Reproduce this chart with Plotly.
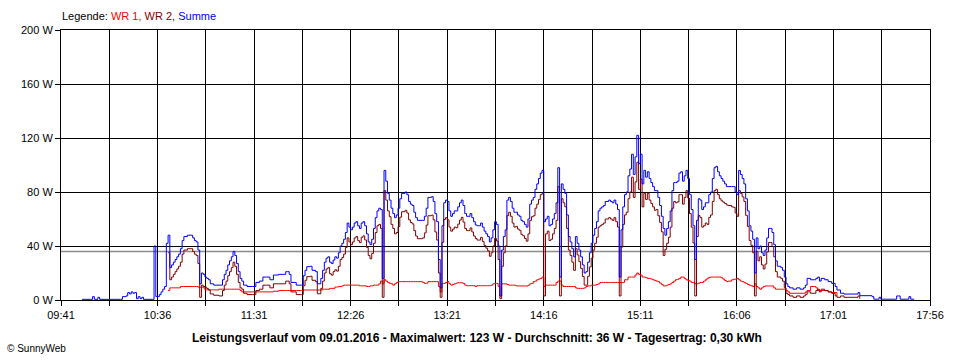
import plotly.graph_objects as go

DATE = "2016-01-09"

# --- data (time of day, watts) ---
times = [
    "09:53", "09:57", "09:58", "09:59", "10:00", "10:01", "10:02", "10:03", "10:15", "10:16",
    "10:18", "10:19", "10:20", "10:21", "10:22", "10:23", "10:24", "10:25", "10:26", "10:27",
    "10:28", "10:33", "10:34", "10:35", "10:37", "10:38", "10:39", "10:40", "10:41", "10:42",
    "10:43", "10:44", "10:45", "10:46", "10:47", "10:48", "10:49", "10:50", "10:51", "10:53",
    "10:55", "10:56", "10:57", "10:58", "10:59", "11:00", "11:01", "11:02", "11:03", "11:04",
    "11:05", "11:06", "11:08", "11:11", "11:13", "11:14", "11:15", "11:16", "11:17", "11:18",
    "11:19", "11:20", "11:21", "11:22", "11:23", "11:24", "11:25", "11:27", "11:30", "11:32",
    "11:34", "11:36", "11:38", "11:40", "11:42", "11:45", "11:48", "11:49", "11:50", "11:51",
    "11:52", "11:55", "11:58", "11:59", "12:00", "12:01", "12:03", "12:04", "12:06", "12:07",
    "12:08", "12:09", "12:10", "12:11", "12:12", "12:13", "12:14", "12:15", "12:16", "12:17",
    "12:18", "12:19", "12:20", "12:21", "12:22", "12:23", "12:24", "12:25", "12:26", "12:27",
    "12:28", "12:29", "12:30", "12:31", "12:32", "12:33", "12:34", "12:35", "12:36", "12:37",
    "12:38", "12:39", "12:40", "12:41", "12:42", "12:43", "12:44", "12:45", "12:46", "12:47",
    "12:48", "12:49", "12:50", "12:51", "12:52", "12:53", "12:54", "12:55", "12:57", "12:58",
    "12:59", "13:00", "13:01", "13:02", "13:03", "13:04", "13:07", "13:08", "13:09", "13:10",
    "13:12", "13:13", "13:14", "13:15", "13:16", "13:17", "13:18", "13:19", "13:20", "13:21",
    "13:22", "13:23", "13:24", "13:25", "13:26", "13:27", "13:28", "13:29", "13:30", "13:31",
    "13:32", "13:33", "13:34", "13:35", "13:36", "13:37", "13:38", "13:39", "13:40", "13:41",
    "13:42", "13:43", "13:44", "13:45", "13:46", "13:47", "13:48", "13:49", "13:50", "13:51",
    "13:52", "13:53", "13:54", "13:55", "13:56", "13:57", "13:58", "13:59", "14:00", "14:01",
    "14:02", "14:03", "14:04", "14:05", "14:06", "14:07", "14:08", "14:09", "14:10", "14:11",
    "14:12", "14:13", "14:14", "14:15", "14:16", "14:17", "14:18", "14:19", "14:20", "14:21",
    "14:22", "14:23", "14:24", "14:25", "14:26", "14:27", "14:28", "14:29", "14:30", "14:31",
    "14:32", "14:33", "14:34", "14:35", "14:36", "14:37", "14:38", "14:39", "14:40", "14:41",
    "14:42", "14:43", "14:44", "14:45", "14:46", "14:47", "14:48", "14:49", "14:50", "14:51",
    "14:52", "14:53", "14:54", "14:55", "14:56", "14:57", "14:58", "14:59", "15:00", "15:01",
    "15:02", "15:03", "15:04", "15:05", "15:06", "15:07", "15:08", "15:09", "15:10", "15:11",
    "15:12", "15:13", "15:14", "15:15", "15:16", "15:17", "15:18", "15:19", "15:20", "15:21",
    "15:22", "15:23", "15:24", "15:25", "15:26", "15:27", "15:28", "15:29", "15:30", "15:31",
    "15:32", "15:33", "15:34", "15:35", "15:36", "15:37", "15:38", "15:39", "15:40", "15:41",
    "15:42", "15:43", "15:44", "15:45", "15:46", "15:47", "15:48", "15:49", "15:50", "15:51",
    "15:52", "15:53", "15:54", "15:55", "15:56", "15:57", "15:58", "15:59", "16:00", "16:01",
    "16:03", "16:04", "16:05", "16:06", "16:07", "16:08", "16:09", "16:10", "16:11", "16:12",
    "16:13", "16:14", "16:15", "16:16", "16:17", "16:18", "16:19", "16:20", "16:21", "16:22",
    "16:23", "16:24", "16:25", "16:26", "16:27", "16:28", "16:29", "16:31", "16:32", "16:33",
    "16:34", "16:35", "16:36", "16:38", "16:40", "16:42", "16:44", "16:45", "16:46", "16:48",
    "16:50", "16:51", "16:52", "16:53", "16:54", "16:56", "16:58", "17:00", "17:02", "17:03",
    "17:05", "17:07", "17:11", "17:15", "17:16", "17:23", "17:24", "17:26", "17:27", "17:28",
    "17:36", "17:37", "17:38", "17:39", "17:43", "17:44", "17:45", "17:47",
]

N = None

summe = [
    0.5, 0.5, 0.5, 2.5, 0.5, 0.5, 2, 0.5, 0.5, 2.5,
    3, 5.5, 4.5, 6, 5, 5.5, 1, 2.5, 1, 2,
    0.5, 0.5, 40, 2.5, 4, 6, 8, 10, 42, 48,
    24, 26, 28, 30, 32, 34, 38, 44, 47, 48,
    48, 46, 44, 43, 37, 12, 20, 19, 17, 16,
    15, 12, 11, 11, 15, 19, 22, 26, 29, 32,
    36, 33, 27, 21, 16, 14, 11, 10, 10, 13,
    14, 17, 17, 15, 18.5, 19, 19, 21, 21, 19,
    13, 11, 11, 18, 22, 24.7, 25, 22, 21, 12,
    12, 16, 22, 28, 31, 32, 28, 27, 29.6, 32,
    31, 35, 40, 42, 45, 50, 57, 54, 52, 54,
    57, 58, 55, 53, 57, 58, 55, 49, 43, 41,
    45, 53, 61, 66, 68, 67, 16, 96, 88, 79,
    74, 68, 64, 61, 63, 68, 75, 79, 80, 78,
    73, 71, 70, 65, 61, 59, 59, 62, 68, 76,
    76.5, 73, 64, 58, 30, 9, 55, 72, 74, 73,
    66, 62, 64, 66, 66, 69, 72, 74, 70, 64,
    62, 62, 64, 61, 58, 55.6, 55, 55, 57, 54,
    51, 49, 47, 43, 46, 52, 58, 56, 40, 3,
    37, 47, 52, 74, 76, 73, 68, 65, 65, 63,
    62, 59, 58, 56, 54, 60, 71, 74, 76, 82,
    86, 90, 94, 96, 58, 60, 62, 55, 56, 60,
    64, 72, 98, 17, 86, 82, 79, 63, 47, 43,
    38, 32, 47, 42, 37, 32, 26, 20, 21, 28,
    35, 42, 48, 53, 58, 66, 68, 69, 70, 73,
    73, 74, 73, 72, 74, 71, 67, 17, 52, 69,
    78, 80, 92, 97, 108, 93, 106, 122, 101, 108,
    86, 96, 91, 95, 90, 87, 84, 81, 81, 76,
    70, 62, 53, 48, 53, 58, 66, 81, 87, 87,
    88, 94, 95, 88, 92, 96, 90, 78, 67, 55,
    30, 59, 75, 74, 67, 69, 72, 72, 78, 80,
    90, 98, 99, 95, 92, 90, 88, 86, 84, 84,
    84, 84, 80, 78, 96, 93, 90, 86, 75, 66,
    55, 51, 45, 20, 46, 38, 40, 35, 33, 37,
    46, 53, 53, 50, 41, 29, 25, 24, 22, 17,
    12, 10, 9, 8, 9, 8, 9, 11, 16, 15,
    15, 16, 17, 14, 16, 15, 13.6, 12.3, 10, 7.4,
    5, 4.4, 4.4, 5.5, 3.2, 2.5, 0.6, 0.6, 2, 0.6,
    0.6, 3, 3, 0.6, 0.6, 2.5, 0.6, 0.6,
]

wr1 = [
    N, N, N, N, N, N, N, N, N, N,
    N, N, N, N, N, N, N, N, N, N,
    N, N, N, N, N, N, N, N, N, 7,
    9, 9, 9, 9, 9, 9, 10, 10, 10, 10,
    10, 10, 10, 10, 9.5, 9.5, 9.5, 9, 7.5, 7.5,
    7.5, 7.5, 7.5, 8, 8, 8, 8, 8, 8, 8,
    8, 8, 8, 8, 7, 6, 6, 6, 6, 6,
    6, 6, 6, 6, 6.5, 7, 7, 7, 7, 7,
    7, 7, 7, 7.4, 7.4, 7.4, 7.4, 7.4, 7.4, 7.4,
    7.4, 7.4, 8, 8, 8, 8, 8.6, 8.6, 8.6, 9.6,
    9.6, 10, 10, 10.5, 11, 11, 11, 11, 11, 11,
    11, 11, 11, 10.5, 10.5, 10.5, 10.5, 10, 10, 10.5,
    10.5, 11, 11, 11, 12, 14, 12, 15, 14, 13,
    12.3, 12, 11, 12, 13, 13.6, 13.6, 13.6, 13.6, 13.6,
    13.6, 13.6, 13.6, 13.6, 13.6, 13.6, 13, 12.3, 12.5, 13.6,
    13.6, 13.6, 13.6, 13.6, 10, 6, 12.3, 12.3, 13, 13.6,
    12, 11, 11.5, 12, 12.5, 12.8, 12.8, 12.8, 12.3, 11,
    10.6, 10.6, 10.6, 10.6, 10.6, 10, 10.6, 10.6, 10.6, 10.6,
    10.6, 10.6, 10.6, 10.6, 11, 12, 12.3, 12.3, 10, 3,
    12, 12, 12, 11.5, 11, 11, 11, 11, 10.5, 10.4,
    10.4, 10.4, 10.4, 10.4, 10.4, 11, 12, 12.3, 13.6, 14,
    15, 15.5, 16, 17, 10, 11, 11, 11, 11, 11,
    11, 13, 14, 14, 11, 10, 10, 10, 10, 10,
    10, 10, 9, 8.6, 8.6, 8.6, 8.6, 9, 10, 10.4,
    10.5, 11, 11, 11, 11.5, 12, 13, 13, 13, 13,
    13, 13, 13, 13, 13, 13, 13, 13, 12.8, 13,
    15, 15, 17, 17, 17, 17, 18.5, 20, 19, 18.5,
    17, 17, 16.5, 16, 16, 15.5, 15, 14.5, 14, 13.6,
    12.5, 11.5, 10.4, 10.5, 11, 11.5, 12, 13, 14, 15,
    15.3, 16, 17, 17, 16, 15, 14.5, 14, 13, 12.8,
    12, 12, 12.5, 13, 13, 14, 15, 16, 16.8, 17,
    17, 17, 17, 17, 17, 16.5, 15.5, 14.5, 13.6, 14,
    15, 15.3, 15.5, 16, 15, 14, 13.6, 13, 12.3, 11.5,
    11, 10.5, 10, 12, 10, 9, 8, 9, 10, 10.4,
    10.4, 10.4, 10.4, 10.4, 9, 8, 8, 8, 8, 8,
    7, 6, 5, 5, 5, 5, 5, 6, 7, 10,
    10, 9, 7, 7, 7, 7, 6, 5.5, 5.5, 3,
    N, N, N, N, N, N, N, N, N, N,
    N, N, N, N, N, N, N, N,
]

wr2 = [
    N, N, N, N, N, N, N, N, N, N,
    N, N, N, N, N, N, N, N, N, N,
    N, N, N, N, N, N, N, N, N, 35,
    15, 17, 19, 21, 23, 25, 28, 34, 37, 38,
    38, 36, 34, 33, 27, 2, 11, 10, 9.5, 8.5,
    7.5, 4.5, 3.5, 3, 7, 11, 14, 18, 21, 24,
    28, 25, 19, 13, 9, 8, 5, 4, 4, 7,
    8, 11, 11, 9, 12, 12, 12, 14, 14, 12,
    6, 4, 4, 10.6, 14.6, 17.3, 17.6, 14.6, 13.6, 4.6,
    4.6, 8.6, 14, 20, 23, 24, 19.4, 18.4, 21, 22.4,
    21.4, 25, 30, 31.5, 34, 39, 46, 43, 41, 43,
    46, 47, 44, 42.5, 46.5, 47.5, 44.5, 39, 33, 30.5,
    34.5, 42, 50, 55, 56, 53, 2, 81, 74, 66,
    61.7, 56, 53, 49, 50, 54.4, 61.4, 65.4, 66.4, 64.4,
    59.4, 57.4, 56.4, 51.4, 47.4, 45.4, 46, 49.7, 55.5, 62.4,
    62.9, 59.4, 50.4, 44.4, 20, 2, 42.7, 59.7, 61, 59.4,
    54, 51, 52.5, 54, 53.5, 56.2, 59.2, 61.2, 57.7, 53,
    51.4, 51.4, 53.4, 50.4, 47.4, 45.6, 44.4, 44.4, 46.4, 43.4,
    40.4, 38.4, 36.4, 32.4, 35, 40, 45.7, 43.7, 30, 1,
    25, 35, 40, 62.5, 65, 62, 57, 54, 54.5, 52.6,
    51.6, 48.6, 47.6, 45.6, 43.6, 49, 59, 61.7, 62.4, 68,
    71, 74.5, 78, 79, 3, 49, 51, 44, 45, 49,
    53, 59, 84, 3, 75, 72, 69, 53, 37, 33,
    28, 22, 38, 33.4, 28.4, 23.4, 17.4, 11, 11, 17.6,
    24.5, 31, 37, 42, 46.5, 54, 55, 56, 57, 60,
    60, 61, 60, 59, 61, 58, 54, 3, 39.2, 56,
    63, 65, 75, 80, 91, 76, 87.5, 102, 82, 89.5,
    69, 79, 74.5, 79, 74, 71.5, 69, 66.5, 67, 62.4,
    57.5, 50.5, 33, 37.5, 42, 46.5, 54, 68, 73, 72,
    72.7, 78, 78, 71, 76, 81, 75.5, 64, 54, 42.2,
    3, 47, 62.5, 61, 54, 55, 57, 56, 61.2, 63,
    73, 81, 82, 78, 75, 73.5, 72.5, 71.5, 70.4, 70,
    69, 68.7, 64.5, 62, 81, 79, 76.4, 73, 62.7, 54.5,
    44, 40.5, 35, 3, 36, 29, 32, 26, 23, 26.6,
    35.6, 42.6, 42.6, 39.6, 32, 21, 17, 16, 14, 9,
    5, 4, 3, 2, 3, 2, 3, 4, 6, 5,
    5, 7, 8, 6, 8, 7, 6, 5, 3, 2,
    3, 2, 2, 3, 1, N, N, N, N, N,
    N, N, N, N, N, N, N, N,
]

series_names = ["WR 1", "WR 2", "Summe"]
series_colors = ["#FF0000", "#800000", "#0000FF"]

grid_times = ["09:41:00", "10:08:30", "10:36:00", "11:03:30", "11:31:00", "11:58:30",
              "12:26:00", "12:53:30", "13:21:00", "13:48:30", "14:16:00", "14:43:30",
              "15:11:00", "15:38:30", "16:06:00", "16:33:30", "17:01:00", "17:28:30",
              "17:56:00"]
grid_labels = ["09:41", "", "10:36", "", "11:31", "", "12:26", "", "13:21", "",
               "14:16", "", "15:11", "", "16:06", "", "17:01", "", "17:56"]
y_ticks = [0, 40, 80, 120, 160, 200]
y_labels = ["0 W", "40 W", "80 W", "120 W", "160 W", "200 W"]

average_w = 36
max_w = 123
day_label = "09.01.2016"
day_yield = "0,30 kWh"

assert len(times) == len(summe) == len(wr1) == len(wr2), (len(times), len(summe), len(wr1), len(wr2))

xs = [f"{DATE} {t}" for t in times]

FONT = "Arial, Liberation Sans, sans-serif"

fig = go.Figure()
for name, vals, col in zip(series_names, [wr1, wr2, summe], series_colors):
    fig.add_trace(go.Scatter(
        x=xs, y=vals, name=name, mode="lines",
        line=dict(color=col, width=1, shape="hv"),
        connectgaps=False, showlegend=False,
    ))

fig.add_shape(type="line", xref="paper", x0=0, x1=1, yref="y",
              y0=average_w, y1=average_w,
              line=dict(color="#8C8C8C", width=1.5), layer="below")

legend_html = (
    '<span style="color:#000000">Legende: </span>'
    f'<span style="color:{series_colors[0]}">{series_names[0]}, </span>'
    f'<span style="color:{series_colors[1]}">{series_names[1]}, </span>'
    f'<span style="color:{series_colors[2]}">{series_names[2]}</span>'
)

fig.add_annotation(text=legend_html, xref="paper", yref="paper", x=-0.001, y=1.052,
                   xanchor="left", yanchor="middle", showarrow=False,
                   font=dict(family=FONT, size=11, color="#000000"))

title = (f"Leistungsverlauf vom {day_label} - Maximalwert: {max_w} W - "
         f"Durchschnitt: {average_w} W - Tagesertrag: {day_yield}")
fig.add_annotation(text=f"<b>{title}</b>", xref="paper", yref="paper", x=0.4787, y=-0.141,
                   xanchor="center", yanchor="middle", showarrow=False,
                   font=dict(family=FONT, size=12, color="#000000"))

fig.add_annotation(text="© SunnyWeb", xref="paper", yref="paper", x=-0.0645, y=-0.181,
                   xanchor="left", yanchor="middle", showarrow=False,
                   font=dict(family=FONT, size=10, color="#000000"))

fig.update_layout(
    width=960, height=360,
    margin=dict(l=61, r=30, t=30, b=60),
    paper_bgcolor="white", plot_bgcolor="white",
    font=dict(family=FONT, size=11, color="#000000"),
    xaxis=dict(
        type="date",
        range=[f"{DATE} 09:41", f"{DATE} 17:56"],
        tickmode="array",
        tickvals=[f"{DATE} {t}" for t in grid_times],
        ticktext=grid_labels,
        showgrid=True, gridcolor="#000000", gridwidth=1,
        showline=True, linecolor="#000000", linewidth=1, mirror=True,
        ticks="outside", ticklen=5, tickcolor="#000000", tickwidth=1,
        zeroline=False, fixedrange=True,
        tickfont=dict(family=FONT, size=11, color="#000000"),
    ),
    yaxis=dict(
        range=[0, 200],
        tickmode="array", tickvals=y_ticks, ticktext=y_labels,
        showgrid=True, gridcolor="#000000", gridwidth=1,
        showline=True, linecolor="#000000", linewidth=1, mirror=True,
        ticks="outside", ticklen=5, tickcolor="#000000", tickwidth=1,
        zeroline=False, fixedrange=True,
        tickfont=dict(family=FONT, size=11, color="#000000"),
    ),
)

fig.write_html("out.html",
               config={"displayModeBar": False, "staticPlot": True},
               post_script="document.body.style.margin='0';document.body.style.overflow='hidden';")
